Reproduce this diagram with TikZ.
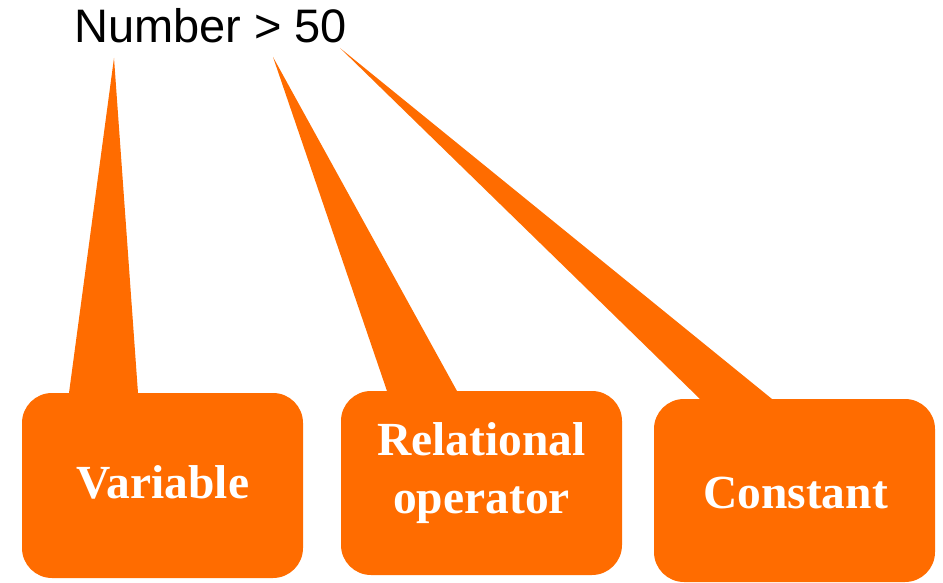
\documentclass[tikz,border=0pt]{standalone}
\usepackage{fontspec}
\setmainfont{Liberation Sans}
\newfontfamily\boxfont{Liberation Serif}
\definecolor{calloutorange}{RGB}{255,108,0}
\begin{document}
\begin{tikzpicture}[x=1pt,y=-1pt,
  calloutbox/.style={fill=calloutorange, rounded corners=30pt, inner sep=0pt,
    minimum width=281pt},
  boxlabel/.style={anchor=base, inner sep=0pt, align=center, text=white,
    font=\boxfont\bfseries\fontsize{47.5}{58}\selectfont},
  wedge/.style={fill=calloutorange}]
\useasboundingbox (0,0) rectangle (943,583);

% expression being annotated
\node[anchor=base west, inner sep=0pt, font=\fontsize{47}{52}\selectfont]
  (expr) at (74,43) {Number > 50};

% tips of the callout pointers
\coordinate (tipvar) at (114,58);
\coordinate (tiprel) at (273,57);
\coordinate (tipcon) at (340,48);

% pointers, drawn under the boxes
\fill[wedge] (tipvar) -- (69,393) -- (69,420) -- (138,420) -- (138,393) -- cycle;
\fill[wedge] (tiprel) -- (387,391) -- (387,420) -- (457,420) -- (457,391) -- cycle;
\fill[wedge] (tipcon) -- (700,399) -- (700,430) -- (772,430) -- (772,399) -- cycle;

% callout boxes
\node[calloutbox, minimum height=185pt] (var) at (162.5,485.5) {};
\node[calloutbox, minimum height=184pt] (rel) at (481.5,483) {};
\node[calloutbox, minimum height=183pt] (con) at (794.5,490.5) {};

% box captions, set on their baselines
\node[boxlabel] (varlabel) at (163,498) {Variable};
\node[boxlabel, anchor=base] (rellabel) at (481.5,455) {Relational};
\node[boxlabel] (oplabel) at (481.5,513) {operator};
\node[boxlabel] (conlabel) at (795.5,508) {Constant};
\end{tikzpicture}
\end{document}
